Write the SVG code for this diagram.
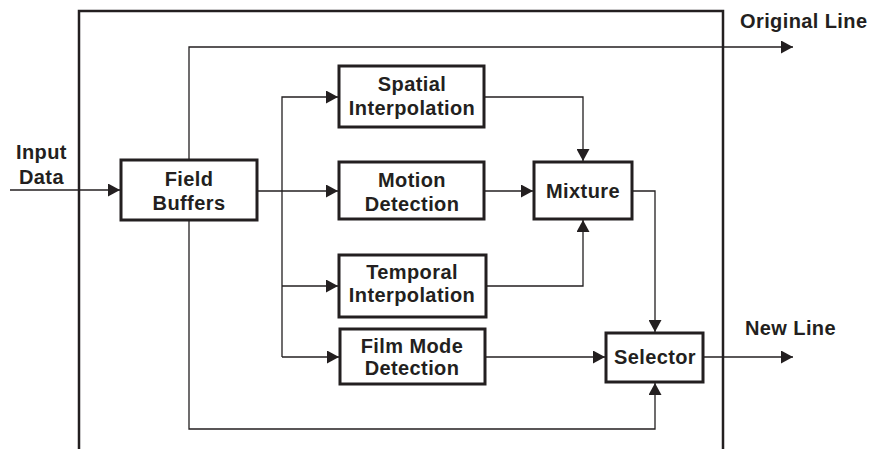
<svg xmlns="http://www.w3.org/2000/svg" width="871" height="449" viewBox="0 0 871 449">
<style>
.box{fill:#fff;stroke:#231f20;stroke-width:3}
.frame{fill:none;stroke:#231f20;stroke-width:2.5}
.c{fill:none;stroke:#231f20;stroke-width:1.3}
.t{font-family:"Liberation Sans",Arial,sans-serif;font-weight:bold;font-size:20px;fill:#231f20;letter-spacing:0.4px}
.m{text-anchor:middle}
</style>
<defs>
<marker id="a" markerUnits="userSpaceOnUse" markerWidth="13" markerHeight="13" viewBox="0 0 13 13" refX="12" refY="6.5" orient="auto">
<path d="M0,0 L12,6.5 L0,13 Z" fill="#231f20"/>
</marker>
</defs>
<rect width="871" height="449" fill="#fff"/>
<path class="frame" d="M79,449 V11 H723 V449"/>
<g id="connectors">
<path class="c" d="M10,190 H120" marker-end="url(#a)"/>
<path class="c" d="M257,191 H338" marker-end="url(#a)"/>
<path class="c" d="M282,357 V97 H338" marker-end="url(#a)"/>
<path class="c" d="M282,286 H338" marker-end="url(#a)"/>
<path class="c" d="M282,357 H339" marker-end="url(#a)"/>
<path class="c" d="M189,160 V47 H793" marker-end="url(#a)"/>
<path class="c" d="M189,220 V429 H655 V383" marker-end="url(#a)"/>
<path class="c" d="M484,97 H583 V161" marker-end="url(#a)"/>
<path class="c" d="M484,191 H533" marker-end="url(#a)"/>
<path class="c" d="M486,286 H583 V220" marker-end="url(#a)"/>
<path class="c" d="M632,191 H655 V332" marker-end="url(#a)"/>
<path class="c" d="M485,357 H605" marker-end="url(#a)"/>
<path class="c" d="M703,357 H793" marker-end="url(#a)"/>
</g>
<g id="field-buffers"><rect class="box" x="121" y="160" width="136" height="60"/><text class="t m" x="189" y="186">Field</text><text class="t m" x="189" y="210">Buffers</text></g>
<g id="spatial"><rect class="box" x="339" y="66" width="145" height="61"/><text class="t m" x="412" y="91">Spatial</text><text class="t m" x="412" y="115">Interpolation</text></g>
<g id="motion"><rect class="box" x="339" y="162" width="145" height="57"/><text class="t m" x="412" y="187">Motion</text><text class="t m" x="412" y="211">Detection</text></g>
<g id="mixture"><rect class="box" x="534" y="162" width="98" height="57"/><text class="t m" x="583" y="198">Mixture</text></g>
<g id="temporal"><rect class="box" x="339" y="255" width="147" height="62"/><text class="t m" x="412" y="279">Temporal</text><text class="t m" x="412" y="302">Interpolation</text></g>
<g id="film-mode"><rect class="box" x="340" y="329" width="145" height="55"/><text class="t m" x="412" y="353">Film Mode</text><text class="t m" x="412" y="375">Detection</text></g>
<g id="selector"><rect class="box" x="606" y="333" width="97" height="49"/><text class="t m" x="655" y="364">Selector</text></g>
<g id="labels">
<text class="t" x="16" y="159">Input</text>
<text class="t" x="19" y="184">Data</text>
<text class="t" x="740" y="28">Original Line</text>
<text class="t" x="745" y="335">New Line</text>
</g>
</svg>
